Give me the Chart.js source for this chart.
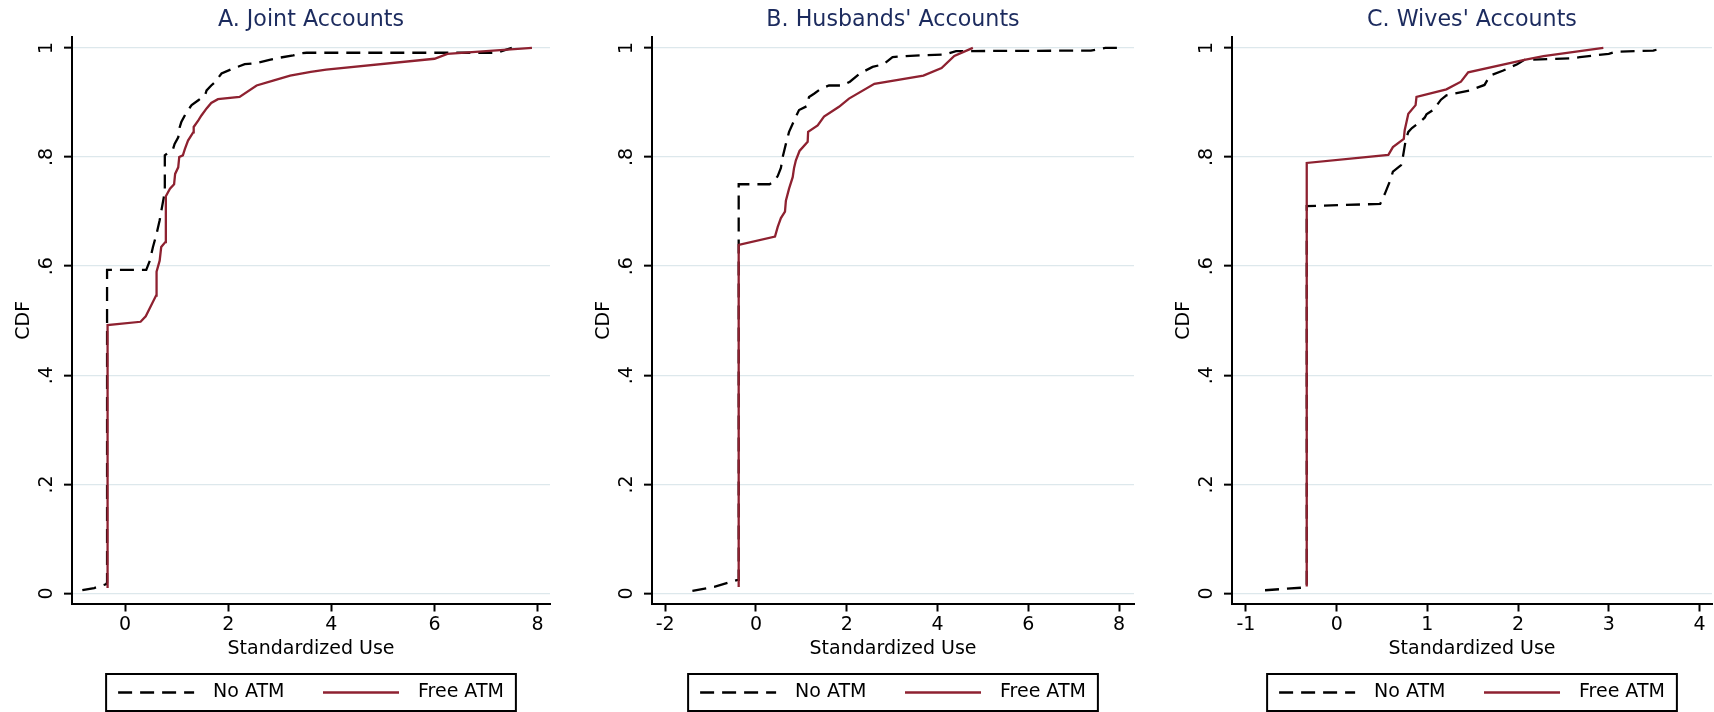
<!DOCTYPE html>
<html>
<head>
<meta charset="utf-8">
<script src="https://cdn.jsdelivr.net/npm/chart.js@4.4.1/dist/chart.umd.min.js"></script>
<style>
html,body{margin:0;padding:0;background:#fff;}
#wrap{position:relative;width:1714px;height:712px;overflow:hidden;background:#fff;}
canvas{position:absolute;top:0;}
</style>
</head>
<body>
<div id="wrap">
<canvas id="cA" width="571" height="712" style="left:0px"></canvas>
<canvas id="cB" width="562" height="712" style="left:580px"></canvas>
<canvas id="cC" width="554" height="712" style="left:1160px"></canvas>
</div>
<script>
// ---------- data ----------
const panelTitles = ["A. Joint Accounts", "B. Husbands' Accounts", "C. Wives' Accounts"];
const seriesNames = ["No ATM", "Free ATM"];
const xAxisTitle = "Standardized Use";
const yAxisTitle = "CDF";
const yTickValues = [0, 0.2, 0.4, 0.6, 0.8, 1];
const yTickLabels = ["0", ".2", ".4", ".6", ".8", "1"];
const xTicksA = [0, 2, 4, 6, 8];
const xTicksB = [-2, 0, 2, 4, 6, 8];
const xTicksC = [-1, 0, 1, 2, 3, 4];
const xLabelsA = ["0", "2", "4", "6", "8"];
const xLabelsB = ["-2", "0", "2", "4", "6", "8"];
const xLabelsC = ["-1", "0", "1", "2", "3", "4"];

// [standardized use, cumulative share]
const jointNoATM = [[-0.83,0.006],[-0.60,0.010],[-0.37,0.017],[-0.35,0.020],[-0.35,0.593],[0.41,0.593],[0.48,0.610],[0.54,0.635],[0.61,0.659],[0.67,0.684],[0.70,0.700],[0.75,0.726],[0.77,0.740],[0.77,0.803],[0.93,0.815],[0.96,0.824],[1.03,0.836],[1.06,0.855],[1.09,0.864],[1.19,0.882],[1.29,0.895],[1.42,0.904],[1.55,0.913],[1.58,0.922],[1.67,0.931],[1.74,0.937],[1.87,0.953],[2.09,0.962],[2.32,0.970],[2.55,0.972],[2.80,0.978],[3.00,0.982],[3.26,0.986],[3.42,0.990],[3.52,0.991],[7.20,0.991],[7.50,1.000]];
const jointFreeATM = [[-0.34,0.010],[-0.34,0.492],[0.30,0.498],[0.40,0.508],[0.60,0.546],[0.61,0.590],[0.67,0.610],[0.70,0.635],[0.78,0.644],[0.79,0.728],[0.87,0.742],[0.95,0.750],[0.97,0.769],[1.03,0.781],[1.05,0.800],[1.12,0.803],[1.16,0.815],[1.22,0.830],[1.32,0.845],[1.33,0.855],[1.42,0.867],[1.48,0.876],[1.58,0.889],[1.67,0.899],[1.80,0.906],[2.22,0.910],[2.55,0.931],[2.87,0.940],[3.20,0.949],[3.60,0.956],[3.90,0.960],[6.00,0.980],[6.25,0.989],[7.89,1.000]];
const husbNoATM = [[-1.40,0.005],[-0.92,0.012],[-0.40,0.025],[-0.38,0.025],[-0.38,0.750],[0.30,0.750],[0.40,0.755],[0.48,0.765],[0.55,0.780],[0.59,0.800],[0.66,0.824],[0.73,0.846],[0.81,0.861],[0.88,0.874],[0.95,0.886],[1.12,0.893],[1.17,0.910],[1.28,0.916],[1.43,0.925],[1.61,0.931],[1.91,0.931],[2.07,0.938],[2.29,0.953],[2.57,0.965],[2.81,0.970],[3.01,0.983],[3.30,0.985],[4.17,0.988],[4.41,0.994],[7.38,0.995],[7.70,1.000],[8.00,1.000]];
const husbFreeATM = [[-0.38,0.012],[-0.38,0.639],[0.42,0.654],[0.48,0.672],[0.55,0.688],[0.64,0.700],[0.66,0.720],[0.73,0.742],[0.81,0.763],[0.84,0.780],[0.88,0.794],[0.96,0.811],[1.14,0.828],[1.15,0.846],[1.36,0.858],[1.50,0.874],[1.83,0.892],[2.05,0.907],[2.61,0.934],[3.69,0.949],[4.09,0.963],[4.37,0.985],[4.78,1.000]];
const wivesNoATM = [[-0.79,0.006],[-0.36,0.011],[-0.33,0.012],[-0.33,0.710],[0.48,0.714],[0.53,0.732],[0.59,0.757],[0.62,0.773],[0.71,0.785],[0.73,0.800],[0.76,0.830],[0.79,0.846],[0.83,0.853],[0.91,0.863],[0.97,0.872],[0.99,0.878],[1.07,0.887],[1.15,0.905],[1.21,0.913],[1.47,0.922],[1.63,0.932],[1.69,0.949],[1.83,0.958],[1.99,0.970],[2.07,0.978],[2.60,0.981],[2.68,0.983],[3.00,0.989],[3.08,0.993],[3.49,0.995],[3.61,1.000]];
const wivesFreeATM = [[-0.33,0.013],[-0.33,0.789],[0.57,0.804],[0.62,0.818],[0.74,0.833],[0.75,0.849],[0.79,0.879],[0.87,0.895],[0.88,0.910],[1.21,0.924],[1.37,0.938],[1.45,0.955],[2.07,0.978],[2.28,0.985],[2.94,1.000]];

// ---------- styling ----------
const RED = '#8e2130';
const NAVY = '#1c2b5e';
const GRID = '#dde8ec';
Chart.defaults.font.family = "'DejaVu Sans', 'Verdana', sans-serif";
Chart.defaults.color = '#000';

const toXY = arr => arr.map(p => ({x: p[0], y: p[1]}));

const legendFrame = {
  id: 'legendFrame',
  afterDraw(chart) {
    const lg = chart.legend;
    if (!lg || !lg.lineWidths) return;
    const pad = lg.options.labels.padding;
    const lw = lg.lineWidths[0];
    const x0 = (lg.left + pad + lg.right - lw) / 2;
    const x1 = x0 + lw - pad;
    const ctx = chart.ctx;
    ctx.save();
    ctx.strokeStyle = '#000';
    ctx.lineWidth = 2;
    ctx.strokeRect(x0 - 12, lg.top + 1, (x1 + 12) - (x0 - 12), lg.height - 2);
    ctx.restore();
  }
};

function makeChart(id, cfg) {
  return new Chart(document.getElementById(id), {
    type: 'line',
    data: {
      datasets: [
        {label: seriesNames[0], data: toXY(cfg.noATM), borderColor: '#000', borderWidth: 2.3, borderDash: [14, 8], pointRadius: 0, tension: 0, fill: false, order: 1},
        {label: seriesNames[1], data: toXY(cfg.freeATM), borderColor: RED, borderWidth: 2.3, pointRadius: 0, tension: 0, fill: false, order: 0}
      ]
    },
    options: {
      responsive: false,
      animation: false,
      events: [],
      layout: {padding: {left: 0, right: cfg.padRight, top: 0, bottom: 0}},
      plugins: {
        title: {display: true, text: cfg.title, fullSize: false, color: NAVY, font: {size: 22.2, weight: 'normal'}, padding: {top: 6.7, bottom: 3.7}},
        legend: {
          display: true, position: 'bottom', fullSize: false,
          labels: {
            usePointStyle: true, pointStyleWidth: 76, padding: 10, color: '#000', font: {size: 19},
            generateLabels(chart) {
              return chart.data.datasets.map((ds, i) => ({
                text: '\u2002' + ds.label + (i === 0 ? '\u2002\u2002\u2002' : ''),
                fillStyle: 'rgba(0,0,0,0)',
                strokeStyle: ds.borderColor,
                lineWidth: ds.borderWidth,
                lineDash: ds.borderDash || [],
                lineCap: 'butt',
                pointStyle: 'line',
                rotation: 180,
                hidden: false,
                fontColor: '#000',
                datasetIndex: i
              }));
            }
          }
        },
        tooltip: {enabled: false}
      },
      scales: {
        x: {
          type: 'linear', min: cfg.xMin, max: cfg.xMax,
          afterBuildTicks: s => { s.ticks = cfg.xTicks.map(v => ({value: v})); },
          afterFit: s => { s.height = 69.5; },
          ticks: {color: '#000', font: {size: 19}, padding: 2, maxRotation: 0, autoSkip: false,
                  callback: (v, i) => cfg.xLabels[i]},
          grid: {drawOnChartArea: false, drawTicks: true, tickLength: 8, tickColor: '#000', tickWidth: 2},
          border: {display: true, color: '#000', width: 2},
          title: {display: true, text: xAxisTitle, color: '#000', font: {size: 19}, padding: {top: 0, bottom: 13}}
        },
        y: {
          type: 'linear', min: -0.0183, max: 1.0198,
          afterBuildTicks: s => { s.ticks = yTickValues.map(v => ({value: v})); },
          afterFit: s => { s.width = 72; },
          ticks: {color: '#000', font: {size: 19}, padding: 8, minRotation: 90, maxRotation: 90, crossAlign: 'center', autoSkip: false,
                  callback: (v, i) => yTickLabels[i]},
          grid: {color: GRID, lineWidth: 1.3, drawTicks: true, tickLength: 8, tickColor: '#000', tickWidth: 2},
          border: {display: true, color: '#000', width: 2},
          title: {display: true, text: yAxisTitle, color: '#000', font: {size: 19}, padding: {top: 12.6, bottom: 0}}
        }
      }
    },
    plugins: [legendFrame]
  });
}

makeChart('cA', {title: panelTitles[0], noATM: jointNoATM, freeATM: jointFreeATM, xMin: -1.03, xMax: 8.24, xTicks: xTicksA, xLabels: xLabelsA, padRight: 21});
makeChart('cB', {title: panelTitles[1], noATM: husbNoATM, freeATM: husbFreeATM, xMin: -2.29, xMax: 8.33, xTicks: xTicksB, xLabels: xLabelsB, padRight: 8});
makeChart('cC', {title: panelTitles[2], noATM: wivesNoATM, freeATM: wivesFreeATM, xMin: -1.154, xMax: 4.138, xTicks: xTicksC, xLabels: xLabelsC, padRight: 2});
</script>
</body>
</html>
